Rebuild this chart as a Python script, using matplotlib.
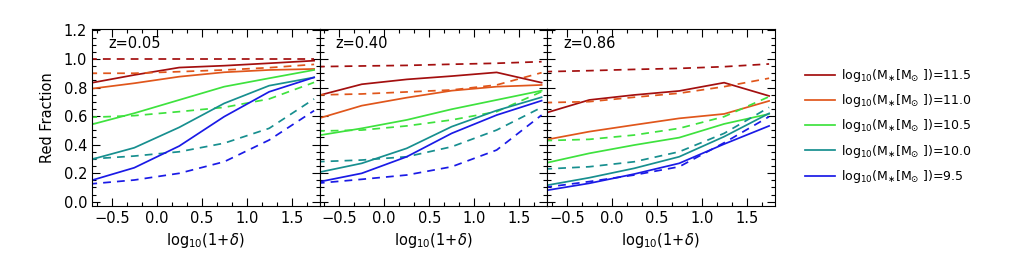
import numpy as np
import matplotlib
matplotlib.use("Agg")
from matplotlib import pyplot as plt
from matplotlib.ticker import MultipleLocator, AutoMinorLocator

# density bins, log10(1+delta)
dens = [-0.75, -0.25, 0.25, 0.75, 1.25, 1.75]
redshifts = ["z=0.05", "z=0.40", "z=0.86"]
mass_bins = ["11.5", "11.0", "10.5", "10.0", "9.5"]
colors = ["#a30f0f", "#e0561b", "#3ee23e", "#178f8f", "#1a1ae6"]

# solid lines, one list per mass bin, per panel
solid_z005 = [
    [0.83, 0.888, 0.94, 0.953, 0.97, 0.988],
    [0.79, 0.83, 0.876, 0.907, 0.923, 0.93],
    [0.537, 0.62, 0.713, 0.806, 0.865, 0.923],
    [0.292, 0.378, 0.521, 0.689, 0.813, 0.871],
    [0.145, 0.238, 0.39, 0.596, 0.77, 0.871],
]
dashed_z005 = [
    [1.0, 1.0, 1.0, 1.0, 1.0, 1.0],
    [0.90, 0.90, 0.911, 0.923, 0.939, 0.962],
    [0.591, 0.603, 0.631, 0.661, 0.72, 0.836],
    [0.299, 0.32, 0.35, 0.41, 0.514, 0.72],
    [0.124, 0.152, 0.199, 0.28, 0.432, 0.638],
]
solid_z040 = [
    [0.741, 0.823, 0.857, 0.88, 0.906, 0.834],
    [0.58, 0.673, 0.729, 0.778, 0.806, 0.818],
    [0.4625, 0.514, 0.573, 0.648, 0.713, 0.778],
    [0.203, 0.269, 0.374, 0.526, 0.639, 0.732],
    [0.136, 0.199, 0.315, 0.479, 0.607, 0.708],
]
dashed_z040 = [
    [0.946, 0.951, 0.955, 0.963, 0.97, 0.981],
    [0.748, 0.755, 0.769, 0.783, 0.818, 0.904],
    [0.495, 0.502, 0.531, 0.573, 0.631, 0.771],
    [0.28, 0.292, 0.315, 0.385, 0.502, 0.661],
    [0.129, 0.157, 0.187, 0.245, 0.362, 0.607],
]
solid_z086 = [
    [0.619, 0.713, 0.748, 0.776, 0.834, 0.741],
    [0.432, 0.491, 0.538, 0.584, 0.615, 0.706],
    [0.269, 0.339, 0.397, 0.449, 0.545, 0.615],
    [0.112, 0.168, 0.234, 0.315, 0.456, 0.619],
    [0.077, 0.129, 0.194, 0.269, 0.404, 0.531],
]
dashed_z086 = [
    [0.911, 0.918, 0.927, 0.934, 0.946, 0.965],
    [0.694, 0.701, 0.732, 0.76, 0.806, 0.865],
    [0.428, 0.437, 0.467, 0.514, 0.596, 0.736],
    [0.229, 0.245, 0.28, 0.35, 0.479, 0.661],
    [0.10, 0.141, 0.187, 0.245, 0.413, 0.596],
]
solids = [solid_z005, solid_z040, solid_z086]
dashes = [dashed_z005, dashed_z040, dashed_z086]

plt.rcParams['font.family'] = ['DejaVu Sans']
plt.rcParams['mathtext.fontset'] = 'dejavusans'

fig = plt.figure(figsize=(10.3, 2.65), dpi=100)

left = 92 / 1030
w = 227.5 / 1030
bottom = 1 - 206 / 265
h = 177 / 265

handles = []
for i in range(3):
    ax = fig.add_axes([left + i * w, bottom, w, h])
    for k in range(len(mass_bins)):
        ln, = ax.plot(dens, solids[i][k], color=colors[k], lw=1.25)
        ax.plot(dens, dashes[i][k], color=colors[k], lw=1.25, ls=(0, (4.5, 3.5)))
        if i == 0:
            handles.append(ln)
    ax.set_xlim(-0.72, 1.81)
    ax.set_ylim(-0.03, 1.21)
    ax.xaxis.set_major_locator(MultipleLocator(0.5))
    ax.xaxis.set_minor_locator(AutoMinorLocator(3))
    ax.yaxis.set_major_locator(MultipleLocator(0.2))
    ax.yaxis.set_minor_locator(MultipleLocator(0.05))
    ax.tick_params(which='both', direction='in', top=True, right=True, labelsize=10.5)
    ax.tick_params(which='major', length=6, width=0.8)
    ax.tick_params(which='minor', length=3, width=0.8)
    ax.set_xlabel(r'log$_{10}$(1+$\delta$)', fontsize=10.5, labelpad=4)
    if i == 0:
        ax.set_ylabel('Red Fraction', fontsize=10.5, labelpad=6)
    else:
        ax.tick_params(labelleft=False)
    ax.text(0.07, 0.92, redshifts[i], transform=ax.transAxes, fontsize=10.5,
            va='center', ha='left')

labels = [r'log$_{10}$(M$_{\ast}$[M$_{\odot}$ ])=' + m for m in mass_bins]
fig.legend(handles, labels, loc='upper left', bbox_to_anchor=(0.771, 0.79),
           frameon=False, fontsize=9, handlelength=2.4, handletextpad=0.45,
           labelspacing=0.66)

fig.savefig('out.png', dpi=100)
